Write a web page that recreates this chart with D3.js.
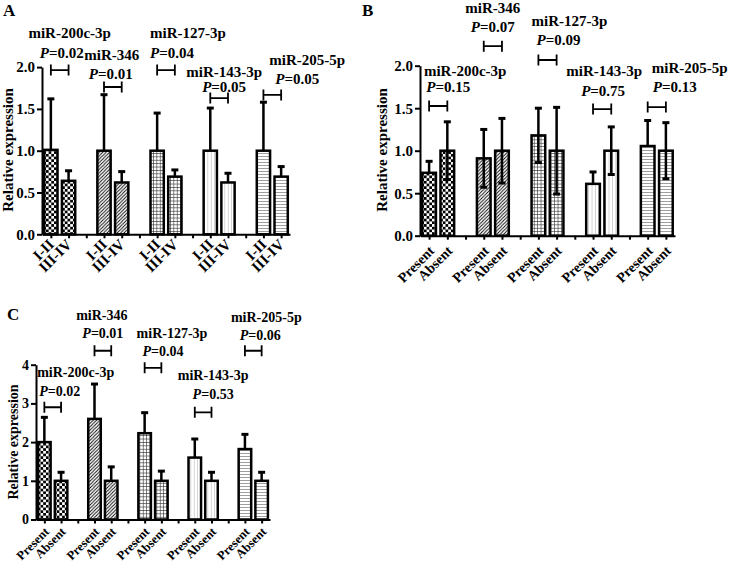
<!DOCTYPE html>
<html><head><meta charset="utf-8">
<script src="https://cdn.jsdelivr.net/npm/d3@7"></script>
<style>
body{margin:0;background:#fff}
svg{display:block}
text{font-family:"Liberation Serif","Times New Roman",serif;font-weight:bold;fill:#000}
.axis path,.axis line{stroke:#000;stroke-width:2}
</style>
</head><body>
<svg id="chart" width="729" height="566"></svg>
<script>
// ---------------- DATA ----------------
const mirnas = ["miR-200c-3p","miR-346","miR-127-3p","miR-143-3p","miR-205-5p"];

// Panel A: stage
const groupsA = ["I-II","III-IV"];
const meanA1 = [1.01,1.00,1.00,1.00,1.00];
const sdA1   = [0.61,0.67,0.45,0.51,0.58];
const meanA2 = [0.64,0.62,0.69,0.62,0.69];
const sdA2   = [0.12,0.13,0.08,0.11,0.12];
const pA     = ["0.02","0.01","0.04","0.05","0.05"];
const yTicksA = [0,0.5,1,1.5,2];

// Panel B
const groupsB = ["Present","Absent"];
const meanB1 = [0.74,0.91,1.18,0.61,1.055];
const sdB1   = [0.135,0.34,0.32,0.14,0.30];
const lowB1  = [false,true,true,false,false];
const meanB2 = [1.00,1.00,1.00,1.00,1.00];
const sdB2   = [0.34,0.38,0.51,0.28,0.33];
const lowB2  = [true,true,true,true,true];
const pB     = ["0.15","0.07","0.09","0.75","0.13"];
const yTicksB = [0,0.5,1,1.5,2];

// Panel C
const groupsC = ["Present","Absent"];
const meanC1 = [2.00,2.60,2.23,1.60,1.82];
const sdC1   = [0.64,0.90,0.53,0.48,0.38];
const meanC2 = [1.00,1.00,1.00,1.00,1.00];
const sdC2   = [0.22,0.36,0.25,0.22,0.22];
const pC     = ["0.02","0.01","0.04","0.53","0.06"];
const yTicksC = [0,1,2,3,4];

const yTitle = "Relative expression";

// ---------------- LAYOUT ----------------
const patterns = ["pChecker","pHatch","pGrid","pVert","pHoriz"];

const layoutA = {letter:"A", lx:3, ly:16, x0:42, x1:290, yBase:234.3, yTop:67.1, yMax:2, fmt:d3.format(".1f"),
  titleX:8, titleY:150, fs:15, tfs:15, xfs:15, tickDx:3.5, tickDy:11,
  ann:[{lvl:1.965,nx:10,ny:-37,px:2,py:-17},{lvl:1.762,nx:-1,ny:-32,px:-2,py:-13},{lvl:1.965,nx:22,ny:-37,px:6,py:-17},
       {lvl:1.63,nx:5,ny:-26,px:5,py:-11},{lvl:1.667,nx:35,ny:-35,px:25,py:-16}]};
const layoutB = {letter:"B", lx:362, ly:16, x0:420, x1:675, yBase:235.7, yTop:65.7, yMax:2, fmt:d3.format(".1f"),
  titleX:382, titleY:150, fs:15, tfs:15, xfs:14, tickDx:5.5, tickDy:16,
  ann:[{lvl:1.526,nx:27,ny:-35,px:10,py:-19},{lvl:2.23,nx:0,ny:-38,px:0,py:-19},{lvl:2.067,nx:22,ny:-39,px:11,py:-20},
       {lvl:1.49,nx:2,ny:-38,px:1,py:-18},{lvl:1.513,nx:33,ny:-39,px:18,py:-20}]};
const layoutC = {letter:"C", lx:7, ly:320, x0:36, x1:270, yBase:519.5, yTop:364.7, yMax:4, fmt:d3.format("d"),
  titleX:13, titleY:442, fs:14, tfs:14, xfs:12.5, tickDx:5, tickDy:13,
  ann:[{lvl:2.9,nx:23,ny:-35,px:7,py:-16},{lvl:4.36,nx:-1,ny:-36,px:0,py:-18},{lvl:3.92,nx:19,ny:-35,px:10,py:-17},
       {lvl:2.77,nx:10,ny:-37,px:10,py:-18},{lvl:4.36,nx:13,ny:-34,px:7,py:-16}]};

const svg = d3.select("#chart");
const defs = svg.append("defs");

// checkerboard
(function(){
  const s=2.7;
  const p=defs.append("pattern").attr("id","pChecker").attr("patternUnits","userSpaceOnUse").attr("width",2*s).attr("height",2*s);
  p.append("rect").attr("width",2*s).attr("height",2*s).attr("fill","#fff");
  p.append("rect").attr("width",s).attr("height",s).attr("fill","#000");
  p.append("rect").attr("x",s).attr("y",s).attr("width",s).attr("height",s).attr("fill","#000");
})();
// diagonal hatch
(function(){
  const s=3.4;
  const p=defs.append("pattern").attr("id","pHatch").attr("patternUnits","userSpaceOnUse").attr("width",s).attr("height",s);
  p.append("rect").attr("width",s).attr("height",s).attr("fill","#fff");
  p.append("path").attr("d",`M0,${s} L${s},0 M${-s/4},${s/4} L${s/4},${-s/4} M${s*3/4},${s*5/4} L${s*5/4},${s*3/4}`)
    .attr("stroke","#000").attr("stroke-width",0.9);
})();
// grid
(function(){
  const s=3.4;
  const p=defs.append("pattern").attr("id","pGrid").attr("patternUnits","userSpaceOnUse").attr("width",s).attr("height",s);
  p.append("rect").attr("width",s).attr("height",s).attr("fill","#fff");
  p.append("path").attr("d",`M0,0.35 H${s} M0.35,0 V${s}`).attr("stroke","#333").attr("stroke-width",0.7);
})();
// vertical lines
(function(){
  const s=3.4;
  const p=defs.append("pattern").attr("id","pVert").attr("patternUnits","userSpaceOnUse").attr("width",s).attr("height",s);
  p.append("rect").attr("width",s).attr("height",s).attr("fill","#fff");
  p.append("path").attr("d",`M0.3,0 V${s}`).attr("stroke","#aaa").attr("stroke-width",0.6);
})();
// horizontal lines
(function(){
  const s=3.0;
  const p=defs.append("pattern").attr("id","pHoriz").attr("patternUnits","userSpaceOnUse").attr("width",s).attr("height",s);
  p.append("rect").attr("width",s).attr("height",s).attr("fill","#fff");
  p.append("path").attr("d",`M0,0.4 H${s}`).attr("stroke","#777").attr("stroke-width",0.8);
})();

function drawPanel(L, groups, m1, s1, m2, s2, low1, low2, pvals, yTicks){
  const g = svg.append("g");
  const slots = [];
  mirnas.forEach((_,i)=>{ slots.push(`b${i}_0`, `b${i}_1`); if(i<mirnas.length-1) slots.push(`gap${i}`); });
  const xs = d3.scalePoint().domain(slots).range([L.x0, L.x1]).padding(0.5);
  const y = d3.scaleLinear().domain([0, L.yMax]).range([L.yBase, L.yTop]);
  const bw = xs.step()*0.75;

  const bars = [];
  mirnas.forEach((name,i)=>{
    bars.push({key:`b${i}_0`, grp:groups[0], mean:m1[i], sd:s1[i], low:low1 ? low1[i] : false, pat:patterns[i]});
    bars.push({key:`b${i}_1`, grp:groups[1], mean:m2[i], sd:s2[i], low:low2 ? low2[i] : false, pat:patterns[i]});
  });

  // x axis
  const labelOf = {};
  bars.forEach(b=>labelOf[b.key]=b.grp);
  const xa = g.append("g").attr("class","axis").attr("transform",`translate(0,${L.yBase})`)
    .call(d3.axisBottom(xs).tickSize(4).tickSizeOuter(0).tickFormat(d=>labelOf[d]||""));
  xa.attr("font-family",null).attr("font-size",null);
  xa.select(".domain").attr("stroke-width",2.5);
  xa.selectAll(".tick text").attr("x",0).attr("y",0).attr("dy",0)
    .attr("text-anchor","end")
    .attr("transform",`translate(${L.tickDx},${L.tickDy}) rotate(-45)`)
    .style("font-size",L.xfs+"px");

  // y axis
  const ya = g.append("g").attr("class","axis").attr("transform",`translate(${L.x0},0)`)
    .call(d3.axisLeft(y).tickValues(yTicks).tickFormat(L.fmt).tickSize(5).tickSizeOuter(0));
  ya.attr("font-family",null).attr("font-size",null);
  ya.selectAll(".tick text").attr("x",-7).style("font-size",L.tfs+"px");

  // bars
  g.selectAll("rect.bar").data(bars).join("rect").attr("class","bar")
    .attr("x",d=>xs(d.key)-bw/2).attr("width",bw)
    .attr("y",d=>y(d.mean)).attr("height",d=>L.yBase-y(d.mean))
    .attr("fill",d=>`url(#${d.pat})`).attr("stroke","#000").attr("stroke-width",2.5);

  // error bars
  const eb = g.selectAll("g.err").data(bars).join("g").attr("class","err")
    .attr("stroke","#000").attr("stroke-width",2.5);
  eb.append("line").attr("x1",d=>xs(d.key)).attr("x2",d=>xs(d.key))
    .attr("y1",d=>y(d.mean)).attr("y2",d=>y(d.mean+d.sd));
  eb.append("line").attr("x1",d=>xs(d.key)-3.5).attr("x2",d=>xs(d.key)+3.5)
    .attr("y1",d=>y(d.mean+d.sd)).attr("y2",d=>y(d.mean+d.sd)).attr("stroke-width",3);
  eb.filter(d=>d.low).append("line").attr("x1",d=>xs(d.key)).attr("x2",d=>xs(d.key))
    .attr("y1",d=>y(d.mean)).attr("y2",d=>y(d.mean-d.sd));
  eb.filter(d=>d.low).append("line").attr("x1",d=>xs(d.key)-3.5).attr("x2",d=>xs(d.key)+3.5)
    .attr("y1",d=>y(d.mean-d.sd)).attr("y2",d=>y(d.mean-d.sd)).attr("stroke-width",3);

  // significance brackets + labels
  mirnas.forEach((name,i)=>{
    const a = L.ann[i];
    const xa1 = xs(`b${i}_0`), xa2 = xs(`b${i}_1`);
    const by = y(a.lvl), cx = (xa1+xa2)/2;
    g.append("path").attr("d",`M${xa1},${by-5.5} V${by+5.5} M${xa1},${by} H${xa2} M${xa2},${by-5.5} V${by+5.5}`)
      .attr("fill","none").attr("stroke","#000").attr("stroke-width",1.8);
    g.append("text").attr("x",cx+a.nx).attr("y",by+a.ny).attr("dy","0.35em").attr("text-anchor","middle")
      .style("font-size",L.fs+"px").text(name);
    const t = g.append("text").attr("x",cx+a.px).attr("y",by+a.py).attr("dy","0.35em").attr("text-anchor","middle")
      .style("font-size",L.fs+"px");
    t.append("tspan").style("font-style","italic").text("P");
    t.append("tspan").text("=" + pvals[i]);
  });

  // y title
  g.append("text").attr("transform",`translate(${L.titleX},${L.titleY}) rotate(-90)`)
    .attr("text-anchor","middle").attr("dy","0.35em").style("font-size",L.fs+"px").text(yTitle);
  // panel letter
  g.append("text").attr("x",L.lx).attr("y",L.ly).style("font-size","17px").text(L.letter);
}

drawPanel(layoutA, groupsA, meanA1, sdA1, meanA2, sdA2, null, null, pA, yTicksA);
drawPanel(layoutB, groupsB, meanB1, sdB1, meanB2, sdB2, lowB1, lowB2, pB, yTicksB);
drawPanel(layoutC, groupsC, meanC1, sdC1, meanC2, sdC2, null, null, pC, yTicksC);
</script>
</body></html>
